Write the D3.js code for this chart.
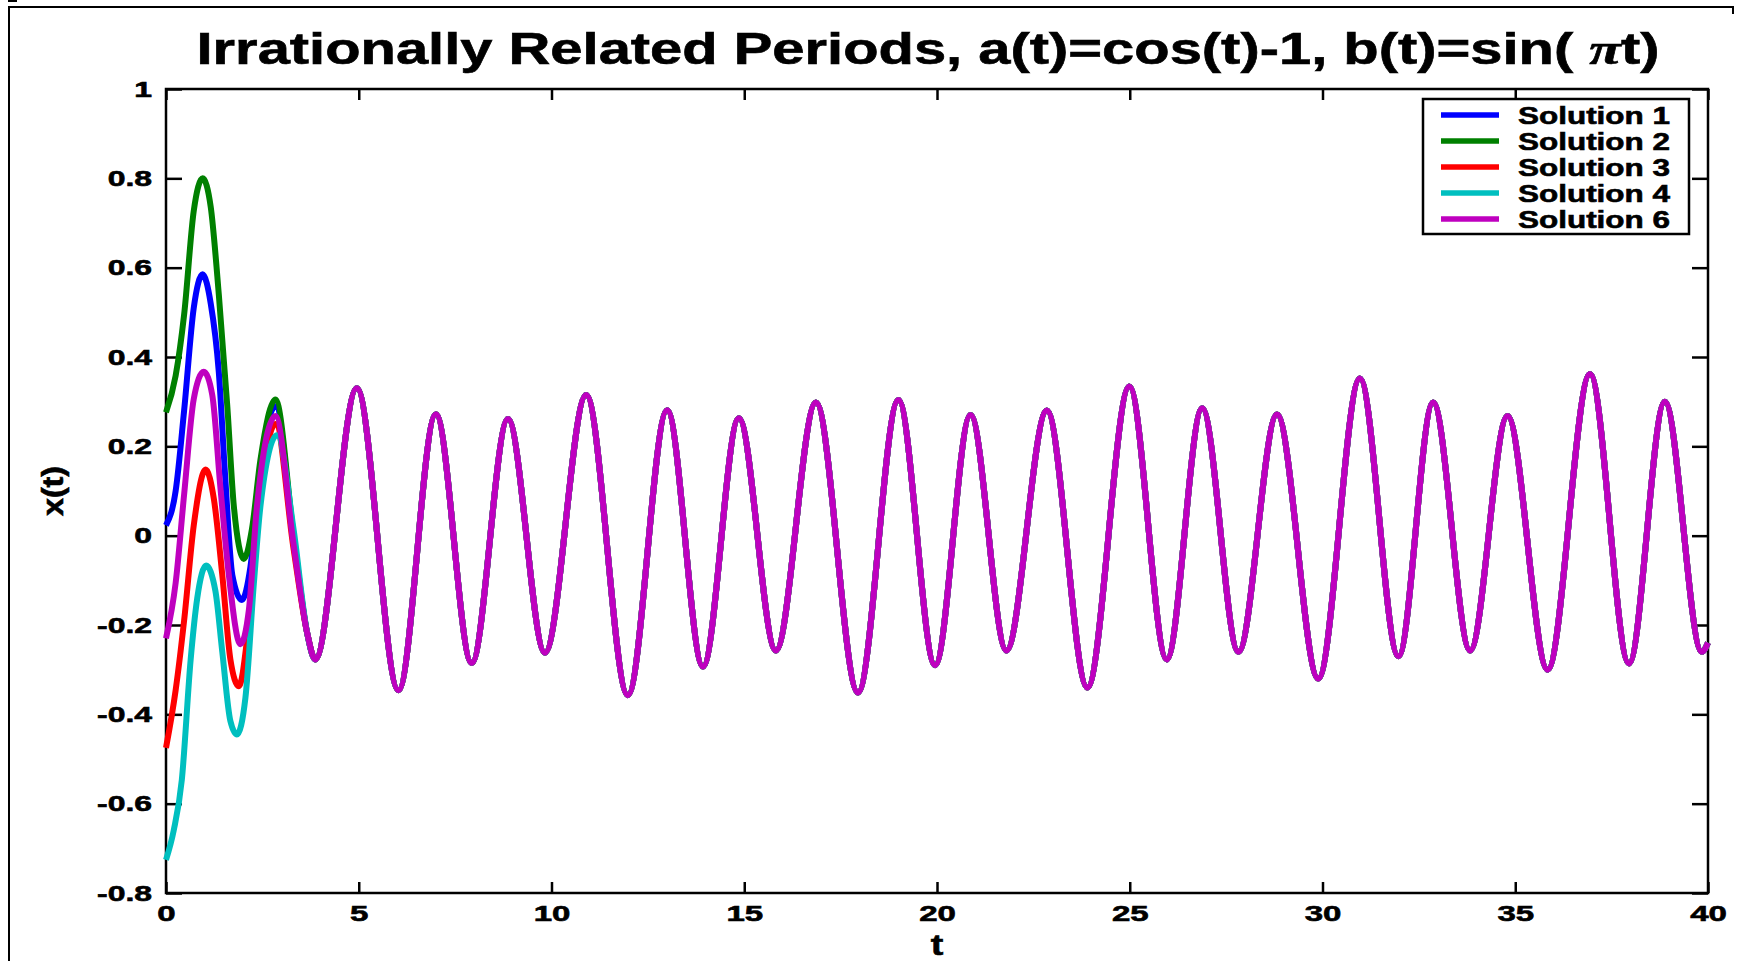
<!DOCTYPE html>
<html>
<head>
<meta charset="utf-8">
<script src="https://cdn.jsdelivr.net/npm/d3@7"></script>
<style>
body { margin:0; background:#fff; }
text { font-family:"Liberation Sans", Arial, sans-serif; font-weight:bold; fill:#000; stroke:#000; stroke-width:0.6px; }
</style>
</head>
<body>
<div id="chart"></div>
<script>
(function(){
var width = 1739,
	height = 961,
	plot = {left:166, right:1708, top:89, bottom:893};

// tick values / labels
var tTicks = [0,5,10,15,20,25,30,35,40];
var vTicks = [-0.8,-0.6,-0.4,-0.2,0,0.2,0.4,0.6,0.8,1];
var vLabels = ["-0.8","-0.6","-0.4","-0.2","0","0.2","0.4","0.6","0.8","1"];

var names = ["Solution 1","Solution 2","Solution 3","Solution 4","Solution 6"];
var colors = ["#0000ff","#008000","#ff0000","#00bfbf","#bf00bf"];

// start of each solution [t, x]
var sol1 = [[0,0.023],[0.25,0.10],[0.47,0.28],[0.72,0.51],[0.95,0.585],[1.16,0.52],[1.37,0.366],[1.54,0.126],[1.72,-0.088],[1.97,-0.144],[2.19,-0.07],[2.45,0.152],[2.84,0.29],[3.31,-0.01]];
var sol2 = [[0,0.276],[0.25,0.358],[0.47,0.495],[0.72,0.727],[0.95,0.80],[1.16,0.736],[1.37,0.54],[1.59,0.29],[1.76,0.066],[2.02,-0.052],[2.23,0.015],[2.45,0.17],[2.84,0.305],[3.31,0.0]];
var sol3 = [[0,-0.475],[0.25,-0.346],[0.47,-0.19],[0.72,0.023],[1.03,0.148],[1.24,0.083],[1.46,-0.088],[1.67,-0.277],[1.89,-0.337],[2.1,-0.234],[2.35,0.02],[2.84,0.25],[3.31,-0.03]];
var sol4 = [[0,-0.726],[0.2,-0.66],[0.41,-0.547],[0.64,-0.277],[0.81,-0.14],[1.04,-0.067],[1.28,-0.123],[1.46,-0.26],[1.67,-0.415],[1.84,-0.445],[2.06,-0.363],[2.28,-0.106],[2.45,0.066],[2.88,0.225],[3.31,0.014]];
var sol6 = [[0,-0.23],[0.25,-0.106],[0.47,0.092],[0.72,0.306],[0.98,0.367],[1.2,0.315],[1.41,0.109],[1.63,-0.088],[1.93,-0.243],[2.15,-0.166],[2.36,0.066],[2.84,0.268],[3.31,-0.02]];

// after t~3.6 all solutions sit on top of each other
var tail = [[3.66,-0.217],[3.87,-0.277],[4.95,0.33],[6.03,-0.346],[7.0,0.272],[7.93,-0.285],[8.87,0.261],[9.83,-0.262],[10.9,0.315],[11.98,-0.357],[13.0,0.281],[13.93,-0.293],[14.86,0.263],[15.82,-0.257],[16.86,0.298],[17.95,-0.351],[19.0,0.304],[19.95,-0.29],[20.87,0.27],[21.8,-0.257],[22.85,0.28],[23.9,-0.34],[24.99,0.334],[25.96,-0.277],[26.88,0.285],[27.82,-0.26],[28.82,0.271],[29.89,-0.32],[30.97,0.352],[31.97,-0.27],[32.87,0.298],[33.83,-0.257],[34.8,0.268],[35.84,-0.30],[36.94,0.362],[37.95,-0.286],[38.88,0.30],[39.84,-0.26],[40,-0.24]];

var starts = [sol1,sol2,sol3,sol4,sol6];
var series = names.map(function(n,i){ return {name:n, color:colors[i], pts:starts[i].concat(tail)}; });

var X = d3.scaleLinear().domain([0,40]).range([plot.left,plot.right]);
var Y = d3.scaleLinear().domain([-0.8,1]).range([plot.bottom,plot.top]);

var svg = d3.select("#chart").append("svg")
	.attr("width",width)
	.attr("height",height);

// figure border (only top and left visible)
svg.append("path")
	.attr("d","M9,961 L9,7 L1733,7 L1733,14")
	.attr("fill","none").attr("stroke","#000").attr("stroke-width",2);
svg.append("path")
	.attr("d","M8,0 L17,0 L17,2 L8,2 Z").attr("fill","#000");

// stretch text horizontally the way the original renders it
function stretch(sel,k){
	sel.each(function(){
		var w = this.getComputedTextLength();
		d3.select(this).attr("textLength",w*k).attr("lengthAdjust","spacingAndGlyphs");
	});
}

svg.append("rect")
	.attr("x",plot.left).attr("y",plot.top)
	.attr("width",plot.right-plot.left).attr("height",plot.bottom-plot.top)
	.attr("fill","none").attr("stroke","#000").attr("stroke-width",2.5);

var gx = svg.append("g").attr("transform","translate(0,"+plot.bottom+")")
	.call(d3.axisBottom(X).tickValues(tTicks).tickSize(-11).tickSizeOuter(0).tickPadding(12).tickFormat(d3.format("d")));
var gxt = svg.append("g").attr("transform","translate(0,"+plot.top+")")
	.call(d3.axisTop(X).tickValues(tTicks).tickSize(-11).tickSizeOuter(0).tickFormat(""));
var gy = svg.append("g").attr("transform","translate("+plot.left+",0)")
	.call(d3.axisLeft(Y).tickValues(vTicks).tickSize(-16).tickSizeOuter(0).tickPadding(14).tickFormat(function(d,i){return vLabels[i];}));
var gyr = svg.append("g").attr("transform","translate("+plot.right+",0)")
	.call(d3.axisRight(Y).tickValues(vTicks).tickSize(-16).tickSizeOuter(0).tickFormat(""));

[gx,gxt,gy,gyr].forEach(function(g){
	g.select(".domain").remove();
	g.selectAll("line").attr("stroke","#000").attr("stroke-width",2.5);
	g.selectAll("text").attr("fill","#000").attr("font-size",22)
		.attr("font-family","'Liberation Sans', Arial, sans-serif").attr("font-weight","bold");
});
stretch(gx.selectAll("text"),1.5);
stretch(gy.selectAll("text"),1.45);

var line = d3.line()
	.x(function(d){return X(d[0]);})
	.y(function(d){return Y(d[1]);})
	.curve(d3.curveMonotoneX);

svg.selectAll(".sol").data(series).enter().append("path")
	.attr("class","sol")
	.attr("d",function(d){return line(d.pts);})
	.attr("fill","none")
	.attr("stroke",function(d){return d.color;})
	.attr("stroke-width",6)
	.attr("stroke-linejoin","round");

// title
var title = svg.append("text")
	.attr("x",928).attr("y",64)
	.attr("text-anchor","middle")
	.attr("font-size",44)
	.attr("textLength",1463).attr("lengthAdjust","spacingAndGlyphs");
title.append("tspan").text("Irrationally Related Periods, a(t)=cos(t)-1, b(t)=sin( ");
title.append("tspan").attr("font-family","'Liberation Serif', serif").attr("font-style","italic").text("π");
title.append("tspan").text("t)");

// axis labels
var tl = svg.append("text").attr("x",937).attr("y",955).attr("text-anchor","middle").attr("font-size",29).text("t");
stretch(tl,1.3);
svg.append("text")
	.attr("transform","translate(63,491) rotate(-90)")
	.attr("text-anchor","middle")
	.attr("font-size",29)
	.attr("textLength",50).attr("lengthAdjust","spacingAndGlyphs")
	.text("x(t)");

// legend
var lg = svg.append("g").attr("transform","translate(1423,99)");
lg.append("rect").attr("width",266).attr("height",135)
	.attr("fill","#fff").attr("stroke","#000").attr("stroke-width",2.5);
var rows = lg.selectAll(".row").data(series).enter().append("g")
	.attr("transform",function(d,i){return "translate(0,"+(16+i*26)+")";});
rows.append("line").attr("x1",18).attr("x2",76)
	.attr("stroke",function(d){return d.color;}).attr("stroke-width",5.5);
rows.append("text").attr("x",95).attr("y",8.5).attr("font-size",24)
	.attr("textLength",152).attr("lengthAdjust","spacingAndGlyphs")
	.text(function(d){return d.name;});

})()
</script>
</body>
</html>
